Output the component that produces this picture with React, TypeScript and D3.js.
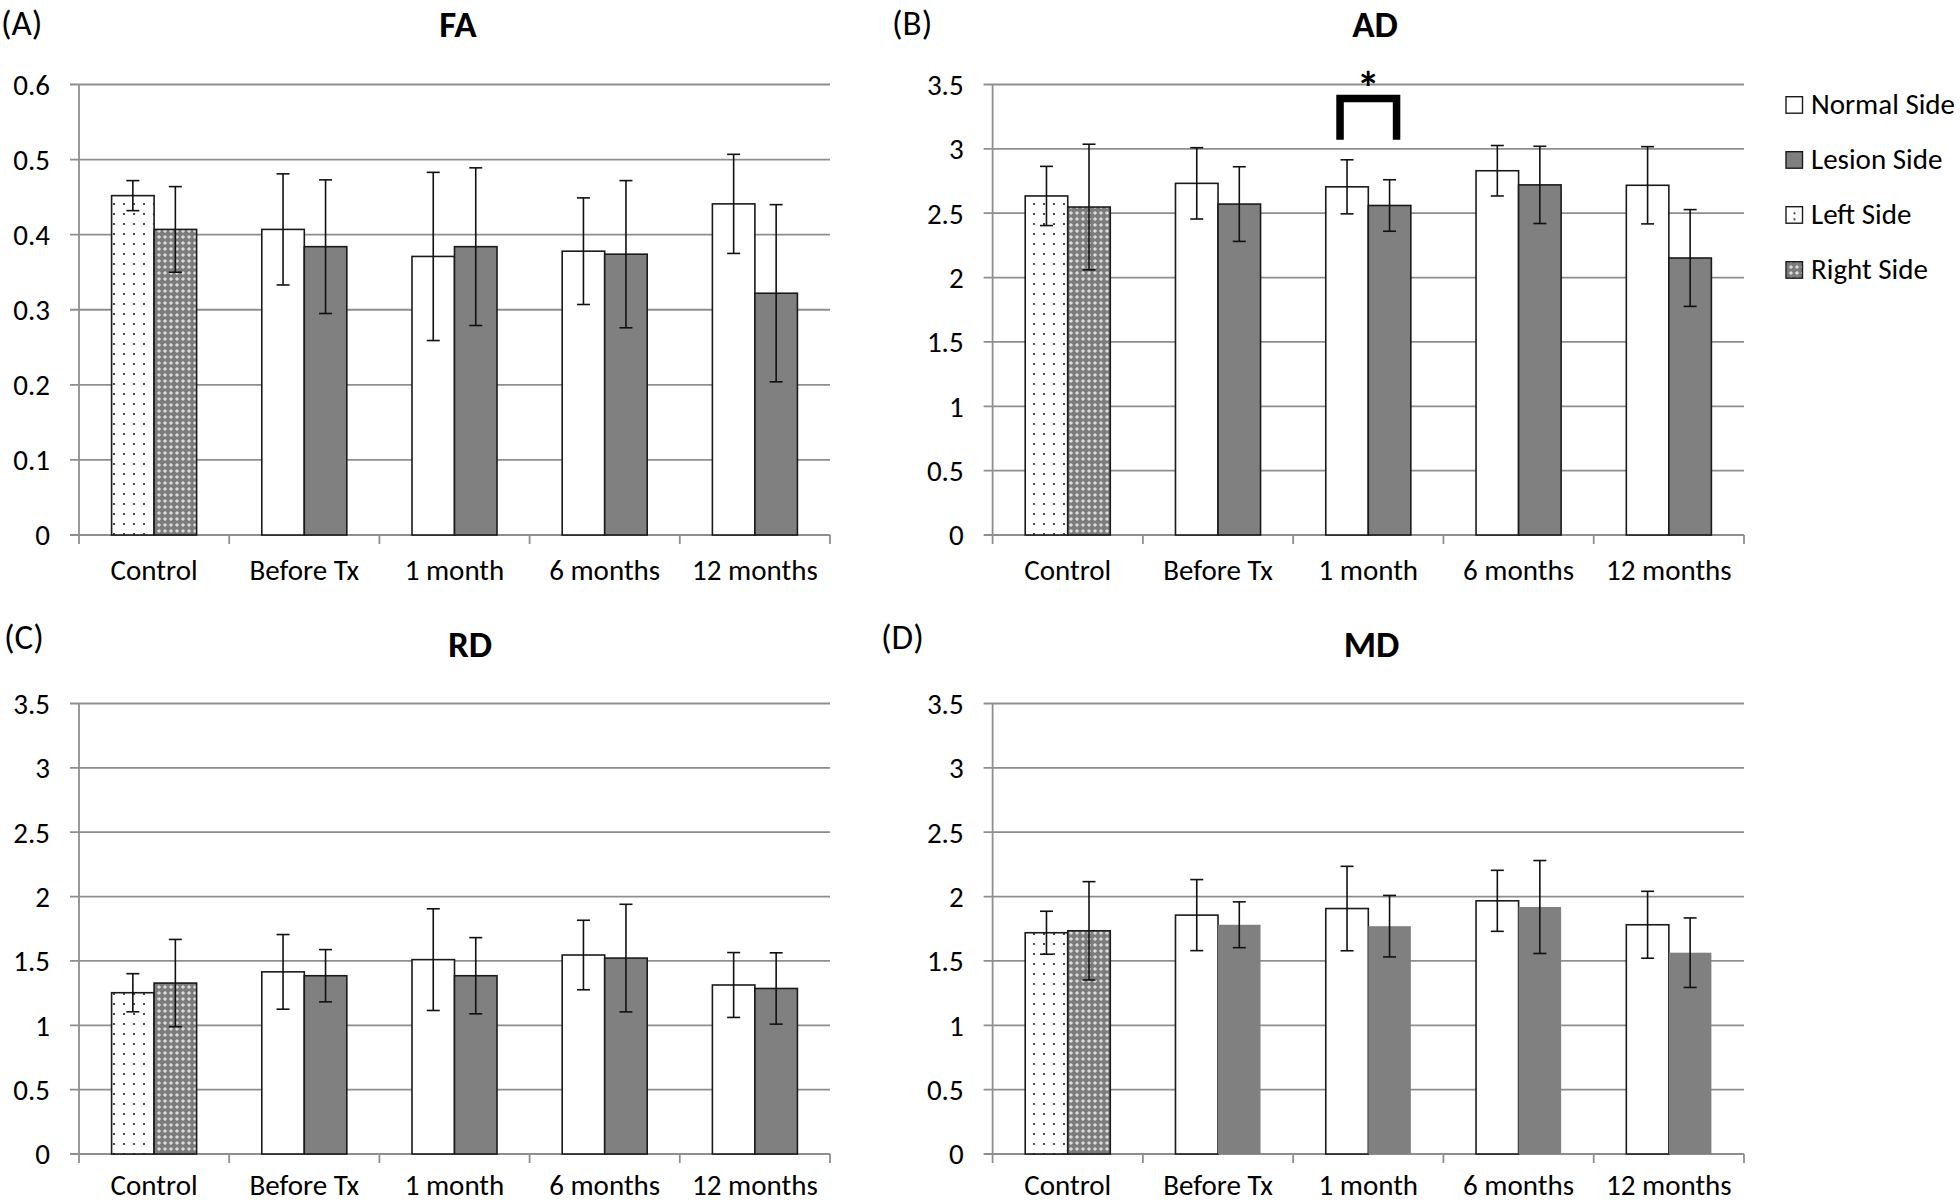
import React from "react";
import * as d3 from "d3";

const categories = ["Control", "Before Tx", "1 month", "6 months", "12 months"];

// first value of "normal" arrays = Control Left Side; first of "lesion" = Control Right Side
const faNormal = [0.452, 0.407, 0.371, 0.378, 0.441];
const faNormalErr = [0.02, 0.074, 0.112, 0.071, 0.066];
const faLesion = [0.407, 0.384, 0.384, 0.374, 0.322];
const faLesionErr = [0.057, 0.089, 0.105, 0.098, 0.118];

const adNormal = [2.634, 2.732, 2.705, 2.83, 2.717];
const adNormalErr = [0.23, 0.277, 0.21, 0.196, 0.3];
const adLesion = [2.548, 2.571, 2.56, 2.72, 2.152];
const adLesionErr = [0.488, 0.29, 0.2, 0.3, 0.376];

const rdNormal = [1.253, 1.415, 1.51, 1.546, 1.313];
const rdNormalErr = [0.148, 0.29, 0.395, 0.27, 0.252];
const rdLesion = [1.328, 1.385, 1.385, 1.522, 1.286];
const rdLesionErr = [0.339, 0.203, 0.296, 0.418, 0.277];

const mdNormal = [1.719, 1.856, 1.907, 1.967, 1.781];
const mdNormalErr = [0.167, 0.276, 0.328, 0.237, 0.26];
const mdLesion = [1.734, 1.781, 1.77, 1.919, 1.564];
const mdLesionErr = [0.382, 0.178, 0.239, 0.361, 0.27];

const faTicks = [0, 0.1, 0.2, 0.3, 0.4, 0.5, 0.6];
const diffTicks = [0, 0.5, 1, 1.5, 2, 2.5, 3, 3.5];

const legendLabels = ["Normal Side", "Lesion Side", "Left Side", "Right Side"];

const FONT = "Carlito, Calibri, Lato, 'Open Sans', sans-serif";
const GRID = "#8e8e8e";
const LESION = "#808080";

type PanelProps = {
  label: string;
  title: string;
  normal: number[];
  normalErr: number[];
  lesion: number[];
  lesionErr: number[];
  ticks: number[];
  x0: number;
  x1: number;
  yTop: number;
  yBottom: number;
  titleX: number;
  titleY: number;
  labelX: number;
  labelY: number;
  catY: number;
  lesionStroke: boolean;
  sig?: number;
};

function Panel(p: PanelProps) {
  const max = p.ticks[p.ticks.length - 1];
  const y = d3.scaleLinear().domain([0, max]).range([p.yBottom, p.yTop]);
  const x = d3.scaleBand<string>().domain(categories).range([p.x0, p.x1]).padding(0);
  const bw = x.bandwidth() * 0.283;
  const cap = 6.5;
  const fmt = (v: number) => String(+v.toFixed(2));

  const bars: any[] = [];
  categories.forEach((c, i) => {
    const cx = (x(c) as number) + x.bandwidth() / 2;
    const left = cx - bw;
    const items = [
      { v: p.normal[i], e: p.normalErr[i], x: left, fill: i === 0 ? "url(#dots)" : "#ffffff", stroke: true },
      { v: p.lesion[i], e: p.lesionErr[i], x: cx, fill: i === 0 ? "url(#hatch)" : LESION, stroke: i === 0 ? true : p.lesionStroke },
    ];
    items.forEach((it, k) => {
      bars.push(
        <rect
          key={`b${i}-${k}`}
          x={it.x}
          y={y(it.v)}
          width={bw}
          height={y(0) - y(it.v)}
          fill={it.fill}
          stroke={it.stroke ? "#1a1a1a" : "none"}
          strokeWidth={1.6}
        />
      );
    });
    items.forEach((it, k) => {
      const ex = it.x + bw / 2;
      bars.push(
        <g key={`e${i}-${k}`} stroke="#111" strokeWidth={1.6}>
          <line x1={ex} x2={ex} y1={y(it.v + it.e)} y2={y(it.v - it.e)} />
          <line x1={ex - cap} x2={ex + cap} y1={y(it.v + it.e)} y2={y(it.v + it.e)} />
          <line x1={ex - cap} x2={ex + cap} y1={y(it.v - it.e)} y2={y(it.v - it.e)} />
        </g>
      );
    });
  });

  let sigMark = null;
  if (p.sig !== undefined) {
    const c = categories[p.sig];
    const cx = (x(c) as number) + x.bandwidth() / 2;
    const lx = cx - bw / 2 - 7;
    const rx = cx + bw / 2 + 7;
    const topY = y(max) + 14;
    const legY = y(3.0) - 9;
    sigMark = (
      <g>
        <path d={`M${lx},${legY} V${topY} H${rx} V${legY}`} fill="none" stroke="#000" strokeWidth={7.5} />
        <text x={cx} y={topY + 5} textAnchor="middle" fontFamily={FONT} fontWeight="bold" fontSize={46} fill="#000">
          *
        </text>
      </g>
    );
  }

  return (
    <g>
      <text x={p.labelX} y={p.labelY} fontFamily={FONT} fontSize={35} fill="#000">
        {p.label}
      </text>
      <text x={p.titleX} y={p.titleY} textAnchor="middle" fontFamily={FONT} fontWeight="bold" fontSize={37} fill="#000">
        {p.title}
      </text>
      {p.ticks.map((t) => (
        <g key={`g${t}`}>
          <line x1={p.x0 - 9} x2={p.x1} y1={y(t)} y2={y(t)} stroke={GRID} strokeWidth={1.8} />
          <text x={p.x0 - 29} y={y(t)} dy="0.36em" textAnchor="end" fontFamily={FONT} fontSize={29} fill="#000">
            {fmt(t)}
          </text>
        </g>
      ))}
      <line x1={p.x0} x2={p.x0} y1={p.yTop} y2={p.yBottom} stroke={GRID} strokeWidth={1.8} />
      {categories.map((c) => (
        <line key={`t${c}`} x1={x(c)} x2={x(c)} y1={p.yBottom} y2={p.yBottom + 9} stroke={GRID} strokeWidth={1.8} />
      ))}
      <line x1={p.x1} x2={p.x1} y1={p.yBottom} y2={p.yBottom + 9} stroke={GRID} strokeWidth={1.8} />
      {bars}
      {categories.map((c) => (
        <text
          key={`l${c}`}
          x={(x(c) as number) + x.bandwidth() / 2}
          y={p.catY}
          textAnchor="middle"
          fontFamily={FONT}
          fontSize={29}
          fill="#000"
        >
          {c}
        </text>
      ))}
      {sigMark}
    </g>
  );
}

export default function App() {
  const legendFills = ["#ffffff", LESION, "url(#dotsL)", "url(#hatch)"];
  const legendTop = 96.7;
  const legendStep = 55;
  return (
    <svg width={1960} height={1202} style={{ position: "absolute", left: 0, top: 0, background: "#fff" }}>
      <defs>
        <pattern id="dots" width={10} height={10} patternUnits="userSpaceOnUse">
          <rect width={10} height={10} fill="#fff" />
          <circle cx={4} cy={4} r={1.1} fill="#222" />
        </pattern>
        <pattern id="dotsL" width={17} height={17} patternUnits="userSpaceOnUse" x={1786} y={207.7}>
          <rect width={17} height={17} fill="#fff" />
          <circle cx={8.5} cy={5.5} r={1.1} fill="#222" />
          <circle cx={8.5} cy={11.5} r={1.1} fill="#222" />
        </pattern>
        <pattern id="hatch" width={6} height={6} patternUnits="userSpaceOnUse">
          <rect width={6} height={6} fill="#7c7c7c" />
          <polygon points="3,0.9 5.1,3 3,5.1 0.9,3" fill="#dcdcdc" />
        </pattern>
      </defs>
      <rect width={1960} height={1202} fill="#fff" />
      <Panel
        label="(A)"
        title="FA"
        normal={faNormal}
        normalErr={faNormalErr}
        lesion={faLesion}
        lesionErr={faLesionErr}
        ticks={faTicks}
        x0={79}
        x1={830}
        yTop={84.5}
        yBottom={535}
        titleX={458}
        titleY={36.5}
        labelX={1}
        labelY={35}
        catY={580}
        lesionStroke={true}
      />
      <Panel
        label="(B)"
        title="AD"
        normal={adNormal}
        normalErr={adNormalErr}
        lesion={adLesion}
        lesionErr={adLesionErr}
        ticks={diffTicks}
        x0={992.6}
        x1={1744}
        yTop={84.5}
        yBottom={535}
        titleX={1375}
        titleY={36.5}
        labelX={892}
        labelY={35}
        catY={580}
        lesionStroke={true}
        sig={2}
      />
      <Panel
        label="(C)"
        title="RD"
        normal={rdNormal}
        normalErr={rdNormalErr}
        lesion={rdLesion}
        lesionErr={rdLesionErr}
        ticks={diffTicks}
        x0={79}
        x1={830}
        yTop={703.5}
        yBottom={1154}
        titleX={470}
        titleY={657}
        labelX={4}
        labelY={649}
        catY={1195}
        lesionStroke={true}
      />
      <Panel
        label="(D)"
        title="MD"
        normal={mdNormal}
        normalErr={mdNormalErr}
        lesion={mdLesion}
        lesionErr={mdLesionErr}
        ticks={diffTicks}
        x0={992.6}
        x1={1744}
        yTop={703.5}
        yBottom={1154}
        titleX={1371.5}
        titleY={657}
        labelX={881}
        labelY={649}
        catY={1195}
        lesionStroke={false}
      />
      {legendLabels.map((l, i) => (
        <g key={l}>
          <rect
            x={1786}
            y={legendTop + i * legendStep}
            width={16.5}
            height={16.5}
            fill={legendFills[i]}
            stroke="#1a1a1a"
            strokeWidth={1.4}
          />
          <text x={1811} y={legendTop + i * legendStep + 16.8} fontFamily={FONT} fontSize={29} fill="#000">
            {l}
          </text>
        </g>
      ))}
    </svg>
  );
}
